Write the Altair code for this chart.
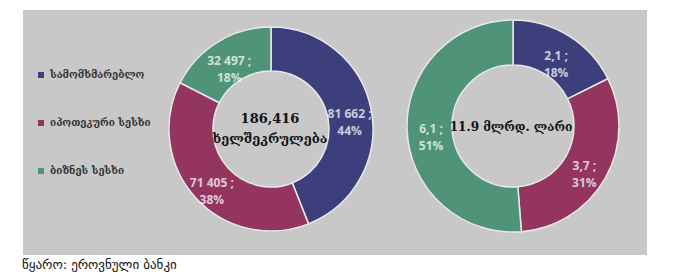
import altair as alt
import pandas as pd

categories = ["სამომხმარებლო", "იპოთეკური სესხი", "ბიზნეს სესხი"]
colors = ["#3c3f7b", "#93355f", "#4f9479"]

contracts = [81662, 71405, 32497]
contract_text = ["81 662 ;", "71 405 ;", "32 497 ;"]
contract_pct = ["44%", "38%", "18%"]

amounts = [2.1, 3.7, 6.1]
amount_text = ["2,1 ;", "3,7 ;", "6,1 ;"]
amount_pct = ["18%", "31%", "51%"]

center_left = "186,416\nხელშეკრულება"
center_right = "11.9 მლრდ. ლარი"
source_text = "წყარო: ეროვნული ბანკი"

W, H = 679, 280

left = pd.DataFrame({
    "cat": categories,
    "idx": [0, 1, 2],
    "value": contracts,
    "label": [f"{a}\n{b}" for a, b in zip(contract_text, contract_pct)],
})
right = pd.DataFrame({
    "cat": categories,
    "idx": [0, 1, 2],
    "value": amounts,
    "label": [f"{a}\n{b}" for a, b in zip(amount_text, amount_pct)],
})

color = alt.Color(
    "cat:N",
    scale=alt.Scale(domain=categories, range=colors),
    legend=alt.Legend(
        title=None,
        orient="none",
        legendX=36,
        legendY=70,
        symbolType="square",
        symbolSize=36,
        symbolStrokeWidth=0,
        labelFont="DejaVu Serif",
        labelFontSize=10,
        labelFontWeight="bold",
        labelColor="#333333",
        rowPadding=38,
        labelOffset=4,
    ),
)

one = pd.DataFrame({"a": [0]})

panel = alt.Chart(one).mark_rect(color="#c8c8c8").encode(
    x=alt.value(23), x2=alt.value(647), y=alt.value(10), y2=alt.value(255)
)


def donut(df, cx, cy, inner, outer, label_r):
    theta = alt.Theta("value:Q", stack="normalize")
    order = alt.Order("idx:Q")
    arc = alt.Chart(df).mark_arc(
        innerRadius=inner, outerRadius=outer, stroke="#e8e8e8", strokeWidth=1.5
    ).encode(theta=theta, color=color, order=order,
             x=alt.value(cx), y=alt.value(cy))
    txt = alt.Chart(df).mark_text(
        radius=label_r, lineBreak="\n", font="Open Sans", fontSize=12,
        fontWeight="bold", color="#ffffff", opacity=0.72, lineHeight=17,
    ).encode(theta=theta, order=order, text="label:N",
             x=alt.value(cx), y=alt.value(cy))
    return arc, txt


arcL, txtL = donut(left, 271, 129, 58, 102, 80)
arcR, txtR = donut(right, 513, 126, 61, 106, 82)

centerL = alt.Chart(one).mark_text(
    text=center_left, lineBreak="\n", font="DejaVu Serif", fontSize=13,
    fontWeight="bold", color="#111111", lineHeight=20,
).encode(x=alt.value(270), y=alt.value(119))

centerR = alt.Chart(one).mark_text(
    text=center_right, font="DejaVu Serif", fontSize=12,
    fontWeight="bold", color="#111111",
).encode(x=alt.value(511), y=alt.value(127))

source = alt.Chart(one).mark_text(
    text=source_text, font="DejaVu Sans", fontSize=13, color="#111111",
    align="left",
).encode(x=alt.value(22), y=alt.value(265))

chart = alt.layer(
    panel, arcL, arcR, txtL, txtR, centerL, centerR, source
).properties(
    width=W, height=H, padding=0, autosize=alt.AutoSizeParams(type="none"),
    background="white",
).configure_view(stroke=None)

chart.save("out.html", embed_options={"renderer": "svg", "actions": False})
